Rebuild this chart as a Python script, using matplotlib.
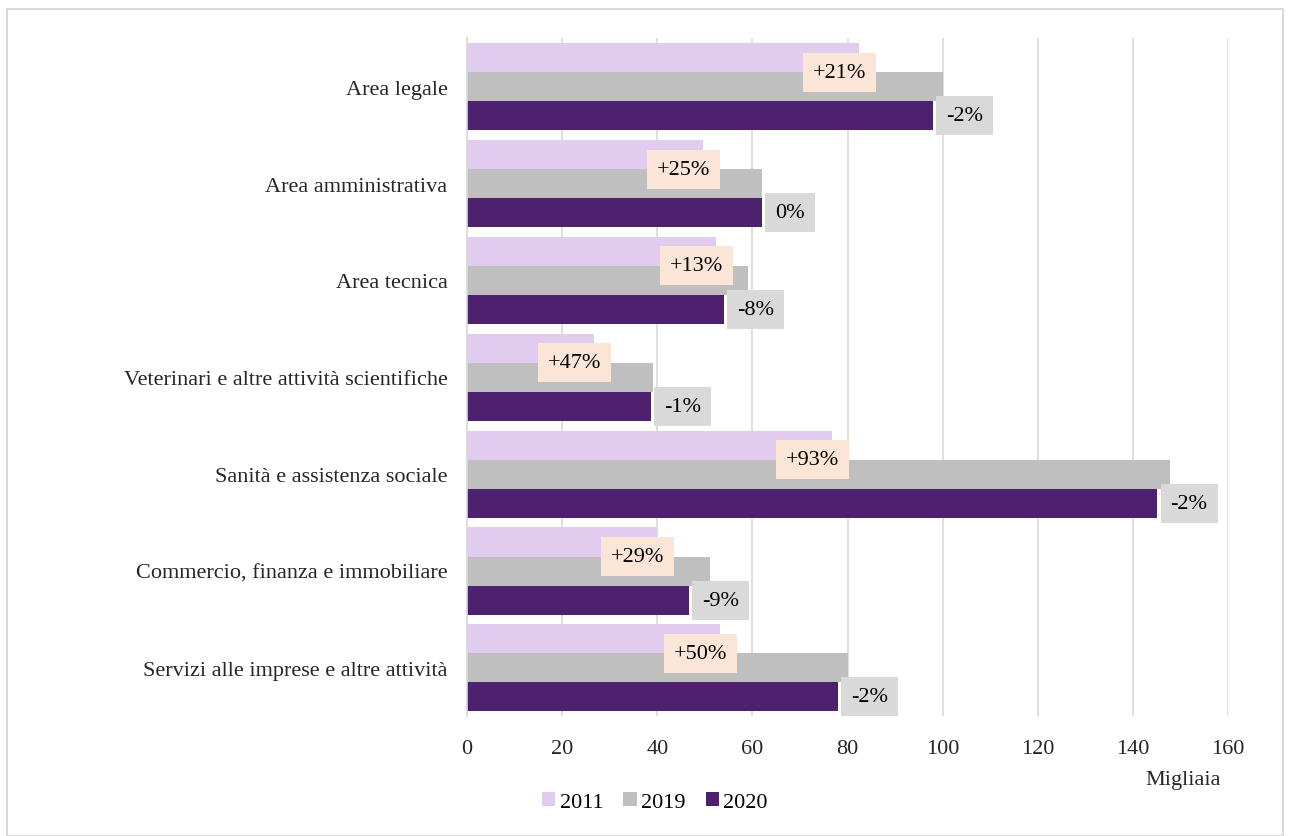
import numpy as np
import matplotlib.pyplot as plt
from matplotlib.patches import Rectangle

plt.rcParams['font.family'] = ['Liberation Serif', 'DejaVu Serif']

categories = ['Area legale', 'Area amministrativa', 'Area tecnica',
              'Veterinari e altre attività scientifiche',
              'Sanità e assistenza sociale',
              'Commercio, finanza e immobiliare',
              'Servizi alle imprese e altre attività']
v2011 = [82.4, 49.6, 52.4, 26.7, 76.7, 40.0, 53.2]
v2019 = [100.1, 62.0, 59.1, 39.1, 147.8, 51.1, 80.1]
v2020 = [98.0, 62.0, 54.0, 38.7, 145.1, 46.7, 78.0]
lab_11_19 = ['+21%', '+25%', '+13%', '+47%', '+93%', '+29%', '+50%']
lab_19_20 = ['-2%', '0%', '-8%', '-1%', '-2%', '-9%', '-2%']

c2011 = '#e1cbee'
c2019 = '#bfbfbf'
c2020 = '#4e216e'

fig = plt.figure(figsize=(12.9, 8.37), dpi=100)
ax = fig.add_axes([0.362, 0.143, 0.590, 0.810])

y = np.arange(len(categories))
h = 0.3
ax.barh(y - h, v2011, height=h, color=c2011, label='2011', zorder=2)
ax.barh(y, v2019, height=h, color=c2019, label='2019', zorder=2)
ax.barh(y + h, v2020, height=h, color=c2020, label='2020', zorder=2)

for i in range(len(categories)):
    ax.text(v2011[i] + 1.5, y[i] - h / 2, lab_11_19[i], ha='right', va='center',
            fontsize=16, zorder=4,
            bbox=dict(boxstyle='square,pad=0.45', fc='#fbe5d6', ec='none'))
    ax.text(v2020[i] + 2.8, y[i] + h, lab_19_20[i], ha='left', va='center',
            fontsize=16, zorder=4,
            bbox=dict(boxstyle='square,pad=0.45', fc='#d9d9d9', ec='none'))

ax.set_xlim(0, 160)
ax.set_ylim(len(categories) - 0.5, -0.5)
ax.set_xticks(np.arange(0, 161, 20))
ax.set_yticks(y)
ax.set_yticklabels(categories)
ax.tick_params(axis='both', length=0, labelsize=16, colors='#262626')
ax.tick_params(axis='x', pad=16)
ax.tick_params(axis='y', pad=14)
ax.grid(axis='x', color='#d9d9d9', linewidth=1.2, zorder=0)
for s in ['top', 'right', 'bottom']:
    ax.spines[s].set_visible(False)
ax.spines['left'].set_color('#d9d9d9')
ax.spines['left'].set_linewidth(1.2)

fig.text(1183 / 1290, 1 - 781 / 837, 'Migliaia', ha='center', va='center',
         fontsize=16, color='#262626')

fig.legend(loc='center', bbox_to_anchor=(655 / 1290, 1 - 803 / 837), ncol=3,
           frameon=False, fontsize=16, handlelength=0.6, handleheight=0.6,
           handletextpad=0.2, columnspacing=0.9)

fig.patches.append(Rectangle((7 / 1290, 0), 1276 / 1290, 1 - 10 / 837,
                             transform=fig.transFigure, fill=False,
                             ec='#d9d9d9', lw=1.5))

fig.savefig('out.png', dpi=100)
